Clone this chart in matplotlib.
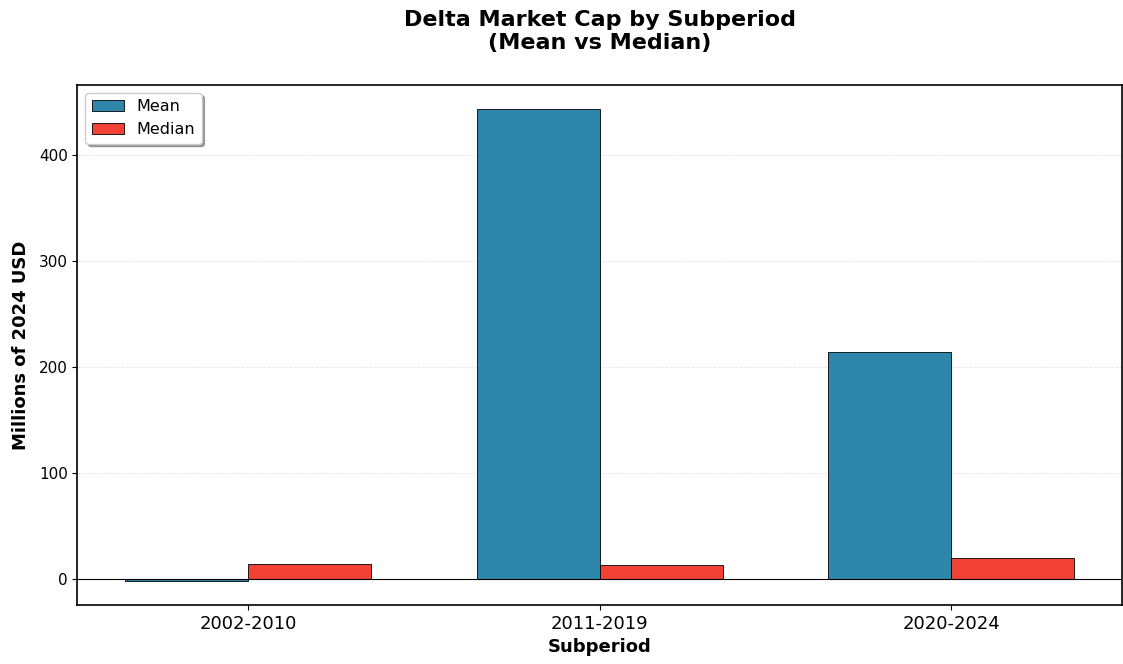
import numpy as np
import matplotlib
matplotlib.use('Agg')
import matplotlib.pyplot as plt

subperiods = ['2002-2010', '2011-2019', '2020-2024']
mean_vals = [-2.0, 443.5, 214.5]
median_vals = [14.0, 13.0, 20.0]

fig = plt.figure(figsize=(11.23, 6.64), dpi=100)
ax = fig.add_axes([0.069, 0.089, 0.93, 0.783])

x = np.arange(len(subperiods))
w = 0.35
ax.bar(x - w / 2, mean_vals, w, label='Mean', color='#2E86AB', edgecolor='black', linewidth=0.6)
ax.bar(x + w / 2, median_vals, w, label='Median', color='#F24236', edgecolor='black', linewidth=0.6)
ax.axhline(0, color='black', linewidth=0.8)

ax.set_xticks(x)
ax.set_xticklabels(subperiods, fontsize=13)
ax.tick_params(axis='y', labelsize=11)
ax.set_xlabel('Subperiod', fontsize=13, fontweight='bold')
ax.set_ylabel('Millions of 2024 USD', fontsize=13, fontweight='bold', labelpad=6)
ax.set_title('Delta Market Cap by Subperiod\n(Mean vs Median)', fontsize=16, fontweight='bold', pad=26)
ax.grid(axis='y', linestyle='--', alpha=0.3, linewidth=0.6)
ax.set_axisbelow(True)
ax.legend(loc='upper left', fontsize=11.5, shadow=True, fancybox=True)
for s in ax.spines.values():
    s.set_linewidth(1.2)

fig.savefig('out.png', dpi=100)
